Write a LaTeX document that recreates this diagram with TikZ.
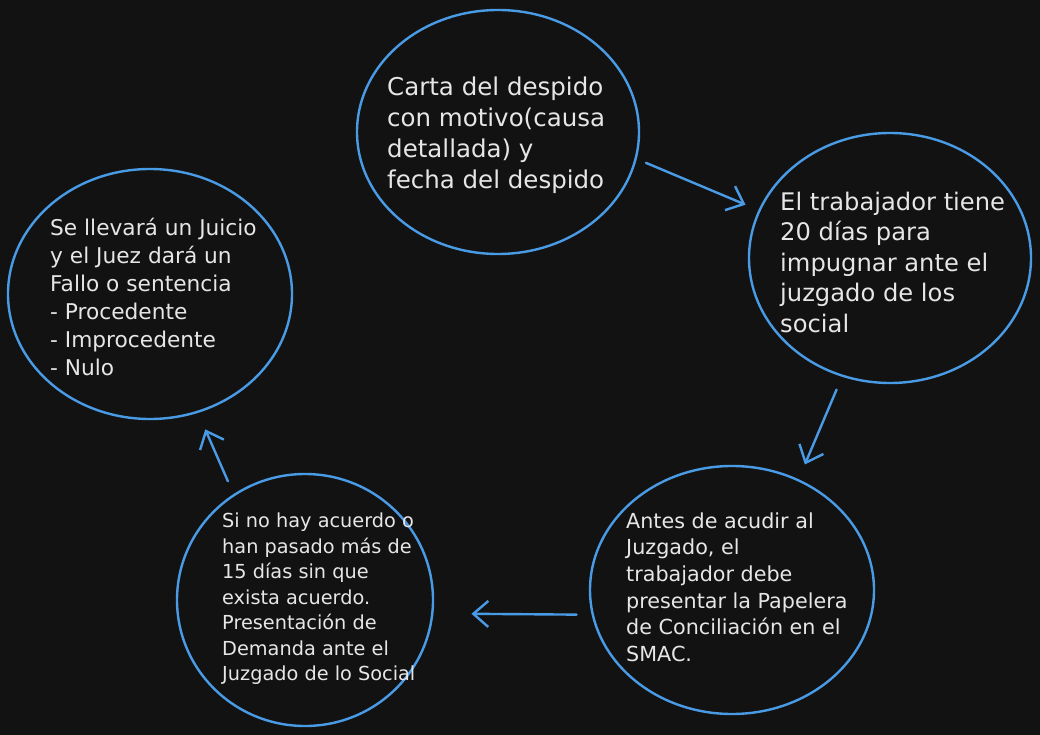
\documentclass[tikz,border=0pt]{standalone}
\usepackage{fontspec}
\setmainfont{DejaVu Sans}
\usetikzlibrary{shapes.geometric,arrows.meta}
\definecolor{fondo}{HTML}{121212}
\definecolor{azul}{RGB}{74,155,230}
\definecolor{tinta}{HTML}{E6E6E6}
\tikzset{
	paso/.style={ellipse,draw=azul,line width=2.4pt,fill=none,inner sep=0pt},
	txt/.style={anchor=west,align=left,text=tinta,inner sep=0pt},
	flecha/.style={draw=azul,line width=2.4pt,line cap=round,-{Straight Barb[length=15pt,width=26pt]}}
}

\begin{document}
\begin{tikzpicture}[x=1pt,y=-1pt]
	\fill[fondo] (0,0) rectangle (1040,735);
	
	\node[paso,minimum width=282pt,minimum height=244pt] (carta) at (498,132) {};
	\node[paso,minimum width=282pt,minimum height=250pt] (plazo) at (890,258) {};
	\node[paso,minimum width=284pt,minimum height=248pt] (smac) at (732,590) {};
	\node[paso,minimum width=256pt,minimum height=252pt] (demanda) at (305,600) {};
	\node[paso,minimum width=284pt,minimum height=250pt] (juicio) at (150,294) {};
	
	\node[txt,font=\fontsize{24.5}{31}\selectfont] (cartaTxt) at (387,135) {Carta del despido\\con motivo(causa\\detallada) y\\fecha del despido};
	\node[txt,font=\fontsize{24.2}{30.5}\selectfont] (plazoTxt) at (780,262) {El trabajador tiene\\20 días para\\impugnar ante el\\juzgado de los\\social};
	\node[txt,font=\fontsize{20.7}{26.6}\selectfont] (smacTxt) at (626,587) {Antes de acudir al\\Juzgado, el\\trabajador debe\\presentar la Papelera\\de Conciliación en el\\SMAC.};
	\node[txt,font=\fontsize{19.3}{25.5}\selectfont] (demandaTxt) at (222,599) {Si no hay acuerdo o\\han pasado más de\\15 días sin que\\exista acuerdo.\\Presentación de\\Demanda ante el\\Juzgado de lo Social};
	\node[txt,font=\fontsize{21.7}{28}\selectfont] (juicioTxt) at (50,297) {Se llevará un Juicio\\y el Juez dará un\\Fallo o sentencia\\- Procedente\\- Improcedente\\- Nulo};
	
	\draw[flecha,shorten <=10pt,shorten >=14pt] (carta.-11) -- (plazo.160);
	\draw[flecha,shorten <=14pt,shorten >=16pt] (plazo.-112) -- (smac.59);
	\draw[flecha,shorten <=15pt,shorten >=38pt] (smac.190) -- (demanda.-6);
	\draw[flecha,shorten <=14pt,shorten >=18pt] (demanda.124) -- (juicio.-68);
	
\end{tikzpicture}
\end{document}
